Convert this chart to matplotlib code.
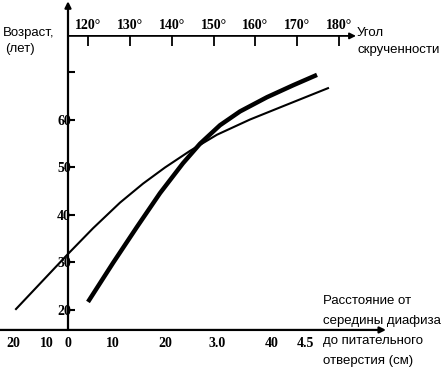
import matplotlib
matplotlib.use('Agg')
import matplotlib.pyplot as plt

# distance from mid-diaphysis (axis units), age in years
thin_x = [-10.4, 0, 5, 10.4, 15, 19.4, 24.4, 29.8, 36.4, 43, 52]
thin_age = [20.2, 31.8, 37.2, 42.6, 46.6, 50.0, 53.5, 56.9, 60.1, 62.9, 66.7]
thick_x = [4, 9, 13.8, 18.4, 23, 26.4, 30.4, 34.4, 39.8, 45, 49.8]
thick_age = [21.7, 29.9, 37.5, 44.6, 50.9, 55.0, 58.9, 61.8, 64.8, 67.3, 69.5]

age_ticks = [20, 30, 40, 50, 60, 70]
age_labels = ['20', '30', '40', '50', '60', '']
dist_ticks = [-11, -4.2, 0, 9, 19.4, 29.8, 40.8, 47.4]
dist_labels = ['20', '10', '0', '10', '20', '3.0', '40', '4.5']
angles = [120, 130, 140, 150, 160, 170, 180]

W, H = 445, 367
fig = plt.figure(figsize=(W / 100, H / 100), dpi=100)
ax = fig.add_axes([0, 0, 1, 1])
ax.set_xlim(-13.6, 75.4)
ax.set_ylim(8.0, 85.26)

num_font = dict(family='Liberation Serif', weight='bold', size=10)
txt_font = dict(family='Liberation Sans', size=9.5)

ax.plot(thin_x, thin_age, color='black', lw=1.5)
ax.plot(thick_x, thick_age, color='black', lw=3.2, solid_capstyle='butt')

for s in ax.spines.values():
    s.set_visible(False)
ax.spines['left'].set_position(('data', 0))
ax.spines['bottom'].set_position(('data', 15.8))

ax.set_yticks(age_ticks)
ax.set_yticklabels(age_labels, fontdict=num_font)
ax.tick_params(axis='y', direction='in', length=5, width=1.5, pad=-2)

ax.set_xticks(dist_ticks)
ax.set_xticklabels(dist_labels, fontdict=num_font)
ax.tick_params(axis='x', length=0, pad=5)

arrow = dict(arrowstyle='-|>', lw=1.6, color='black', mutation_scale=9,
             shrinkA=0, shrinkB=0)
ax.annotate('', xy=(0, 85.0), xytext=(0, 15.8), arrowprops=arrow)
ax.annotate('', xy=(63.6, 15.8), xytext=(-13.6, 15.8), arrowprops=arrow)
top_y = 77.7
arrow2 = dict(arrow, lw=1.3)
ax.annotate('', xy=(57.6, top_y), xytext=(0, top_y), arrowprops=arrow2)

# angle scale (parent x -> degrees, degrees -> parent x)
def x2deg(x):
    return 120 + (x - 4) / 0.837

def deg2x(d):
    return 4 + (d - 120) * 0.837

sec = ax.secondary_xaxis(1 - 36 / H, functions=(x2deg, deg2x))
for s in sec.spines.values():
    s.set_visible(False)
sec.set_xticks(angles)
sec.set_xticklabels([f'{a}°' for a in angles], fontdict=num_font)
sec.tick_params(axis='x', direction='in', length=7, width=1.3, pad=3)

def px(x, y):
    return x / W, 1 - y / H

fig.text(*px(3, 33), 'Возраст,', va='center', ha='left', **txt_font)
fig.text(*px(5, 49), '(лет)', va='center', ha='left', **txt_font)
fig.text(*px(357, 33), 'Угол', va='center', ha='left', **txt_font)
fig.text(*px(357, 50), 'скрученности', va='center', ha='left', **txt_font)
for i, line in enumerate(['Расстояние от', 'середины диафиза',
                          'до питательного', 'отверстия (см)']):
    fig.text(*px(323, 301 + i * 20), line, va='center', ha='left', **txt_font)

fig.savefig('out.png', dpi=100)
